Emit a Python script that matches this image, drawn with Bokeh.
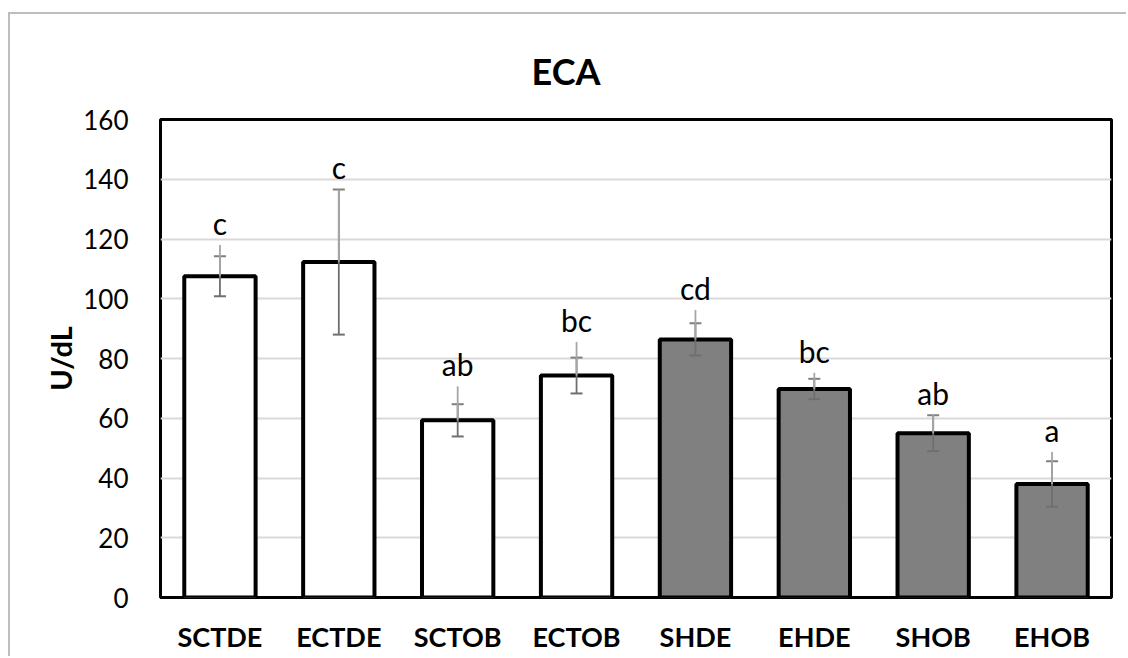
from bokeh.plotting import figure
from bokeh.models import Range1d, FixedTicker, ColumnDataSource
from bokeh.embed import file_html
from bokeh.resources import INLINE
from bokeh.core.properties import value

# ECA activity per group (U/dL)
groups = ["SCTDE", "ECTDE", "SCTOB", "ECTOB", "SHDE", "EHDE", "SHOB", "EHOB"]
means = [107.5, 112.3, 59.3, 74.3, 86.4, 69.8, 55.0, 38.0]
sd = [6.7, 24.3, 5.4, 6.0, 5.4, 3.4, 6.0, 7.6]
upper_err = [10.5, 24.3, 11.4, 11.2, 9.8, 5.4, 6.2, 10.7]
letters = ["c", "c", "ab", "bc", "cd", "bc", "ab", "a"]
fills = ["white", "white", "white", "white", "#808080", "#808080", "#808080", "#808080"]
y_ticks = [0, 20, 40, 60, 80, 100, 120, 140, 160]

FONT = "Lato"

xs = [i + 0.5 for i in range(len(groups))]
src = ColumnDataSource(dict(
    x=xs, top=means, fill=fills, label=letters,
    lo=[m - s for m, s in zip(means, sd)],
    hi=[m + s for m, s in zip(means, sd)],
    up=[m + u for m, u in zip(means, upper_err)],
))

p = figure(width=1118, height=644, output_backend="svg", toolbar_location=None,
           x_range=Range1d(0, len(groups)), y_range=Range1d(0, 160),
           min_border_left=150, min_border_right=17, min_border_top=105, min_border_bottom=61)
p.styles = {"margin-left": "8px", "margin-top": "12px",
            "border-left": "2px solid #bdbdbd", "border-top": "2px solid #bdbdbd"}

# title centred on the whole chart area rather than the plot frame
p.title.text = "ECA"
p.title.align = "left"
p.title.offset = 371
p.title.standoff = 54
p.title.text_font = FONT
p.title.text_font_size = "36px"
p.title.text_font_style = "bold"
p.title.text_color = "black"

p.outline_line_color = "black"
p.outline_line_width = 3
p.background_fill_color = "white"
p.border_fill_color = "white"

# axes
p.xaxis.ticker = FixedTicker(ticks=xs)
p.xaxis.major_label_overrides = {x: g for x, g in zip(xs, groups)}
p.yaxis.ticker = FixedTicker(ticks=y_ticks)
for ax in (p.xaxis[0], p.yaxis[0]):
    ax.axis_line_color = None
    ax.major_tick_line_color = None
    ax.minor_tick_line_color = None
    ax.major_label_text_font = FONT
    ax.major_label_text_color = "black"
p.xaxis.major_label_text_font_size = "27px"
p.xaxis.major_label_text_font_style = "bold"
p.xaxis.major_label_standoff = 16
p.yaxis.major_label_text_font_size = "26px"
p.yaxis.major_label_standoff = 26
p.yaxis.axis_label = "U/dL"
p.yaxis.axis_label_text_font = FONT
p.yaxis.axis_label_text_font_size = "29px"
p.yaxis.axis_label_text_font_style = "bold"
p.yaxis.axis_label_text_color = "black"
p.yaxis.axis_label_standoff = 2

p.xgrid.grid_line_color = None
p.ygrid.grid_line_color = "#d9d9d9"
p.ygrid.grid_line_width = 2

# bars
p.vbar(x="x", top="top", width=0.6, bottom=0, source=src,
       fill_color="fill", line_color="black", line_width=4)

# error bars: SD whiskers with caps, plus upper extension
p.segment(x0="x", y0="lo", x1="x", y1="hi", source=src, line_color="#6f6f6f", line_width=1.8)
p.dash(x="x", y="lo", source=src, size=12, line_color="#6f6f6f", line_width=2)
p.dash(x="x", y="hi", source=src, size=12, line_color="#7f7f7f", line_width=2)
p.segment(x0="x", y0="top", x1="x", y1="up", source=src, line_color="#a6a6a6", line_width=1.8)

# significance letters
p.text(x="x", y="up", text="label", source=src, text_align="center",
       text_baseline="alphabetic", y_offset=-22,
       text_font=value(FONT), text_font_size="30px", text_color="black")

open("out.html", "w").write(file_html(p, INLINE))
